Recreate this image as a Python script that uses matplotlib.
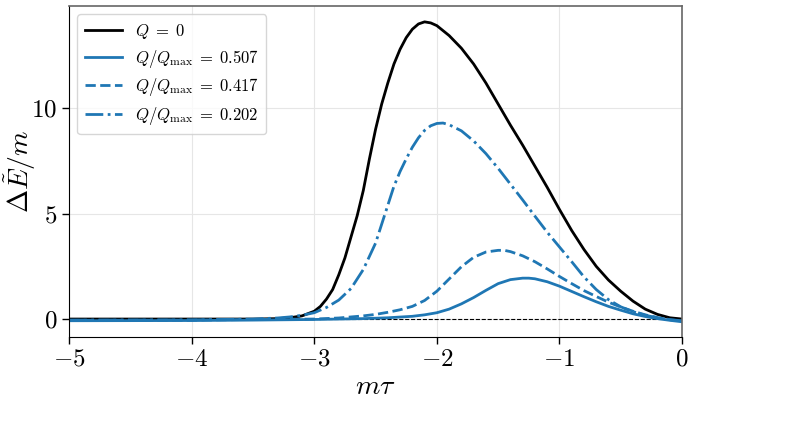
import matplotlib
matplotlib.use("Agg")
import matplotlib.pyplot as plt

plt.rcParams['mathtext.fontset'] = 'cm'
plt.rcParams['font.family'] = 'serif'
plt.rcParams['font.serif'] = ['cmr10', 'DejaVu Serif']
plt.rcParams['axes.unicode_minus'] = False

# Q = 0
x_q0 = [-5.0, -4.0, -3.5, -3.3, -3.2, -3.1, -3.0, -2.95, -2.9, -2.85, -2.8, -2.75, -2.7,
        -2.65, -2.6, -2.55, -2.5, -2.45, -2.4, -2.35, -2.3, -2.25, -2.2, -2.15, -2.1,
        -2.05, -2.0, -1.9, -1.8, -1.7, -1.6, -1.5, -1.4, -1.3, -1.2, -1.1, -1.0, -0.9,
        -0.8, -0.7, -0.6, -0.5, -0.4, -0.3, -0.2, -0.1, 0.0]
y_q0 = [0.0, 0.0, 0.0, 0.02, 0.06, 0.15, 0.37, 0.6, 0.95, 1.4, 2.1, 2.9, 3.9,
        4.9, 6.1, 7.6, 9.0, 10.2, 11.2, 12.1, 12.8, 13.35, 13.75, 14.0, 14.1,
        14.05, 13.92, 13.45, 12.85, 12.1, 11.2, 10.2, 9.2, 8.25, 7.25, 6.25, 5.2, 4.2,
        3.3, 2.5, 1.85, 1.32, 0.85, 0.47, 0.22, 0.06, 0.0]

# Q/Qmax = 0.507
x_507 = [-5.0, -4.0, -3.5, -3.0, -2.6, -2.4, -2.2, -2.1, -2.0, -1.9, -1.8, -1.7, -1.6,
         -1.5, -1.4, -1.3, -1.25, -1.2, -1.1, -1.0, -0.9, -0.8, -0.7, -0.6, -0.5, -0.4,
         -0.3, -0.2, -0.1, 0.0]
y_507 = [-0.08, -0.07, -0.05, -0.02, 0.02, 0.06, 0.13, 0.2, 0.3, 0.47, 0.72, 1.02, 1.36,
         1.68, 1.87, 1.94, 1.94, 1.91, 1.77, 1.56, 1.31, 1.06, 0.82, 0.6, 0.42, 0.25,
         0.12, 0.02, -0.06, -0.13]

# Q/Qmax = 0.417
x_417 = [-5.0, -4.0, -3.5, -3.0, -2.8, -2.6, -2.5, -2.4, -2.3, -2.2, -2.1, -2.0, -1.9,
         -1.8, -1.7, -1.6, -1.5, -1.45, -1.4, -1.3, -1.2, -1.1, -1.0, -0.9, -0.8, -0.7,
         -0.6, -0.5, -0.4, -0.3, -0.2, -0.1, 0.0]
y_417 = [-0.06, -0.05, -0.02, 0.0, 0.05, 0.15, 0.22, 0.32, 0.44, 0.6, 0.88, 1.32, 1.9,
         2.48, 2.93, 3.18, 3.26, 3.26, 3.2, 3.0, 2.72, 2.38, 2.02, 1.68, 1.35, 1.07,
         0.8, 0.57, 0.37, 0.2, 0.07, -0.03, -0.1]

# Q/Qmax = 0.202
x_202 = [-5.0, -4.0, -3.5, -3.3, -3.2, -3.1, -3.0, -2.9, -2.8, -2.7, -2.6, -2.5, -2.45,
         -2.4, -2.35, -2.3, -2.25, -2.2, -2.15, -2.1, -2.05, -2.0, -1.95, -1.9, -1.8,
         -1.7, -1.6, -1.5, -1.4, -1.3, -1.2, -1.1, -1.0, -0.9, -0.8, -0.7, -0.6, -0.5,
         -0.4, -0.3, -0.2, -0.1, 0.0]
y_202 = [-0.05, -0.04, 0.0, 0.05, 0.1, 0.18, 0.3, 0.55, 0.9, 1.45, 2.35, 3.6, 4.5,
         5.4, 6.3, 7.0, 7.6, 8.15, 8.6, 8.95, 9.17, 9.28, 9.3, 9.22, 8.93,
         8.45, 7.85, 7.15, 6.4, 5.65, 4.88, 4.12, 3.42, 2.72, 2.0, 1.4, 0.92, 0.58,
         0.35, 0.18, 0.06, -0.03, -0.08]

xticks = [-5, -4, -3, -2, -1, 0]
yticks = [0, 5, 10]

fig = plt.figure(figsize=(7.94, 4.32), dpi=100)
ax = fig.add_axes([0.087, 0.22, 0.772, 0.766])

blue = '#1f77b4'
ax.axhline(0, color='black', lw=0.8, ls='--', zorder=1)
ax.plot(x_q0, y_q0, color='black', lw=2.0, label=r'$Q\;=\;0$')
ax.plot(x_507, y_507, color=blue, lw=2.0, ls='-', label=r'$Q/Q_{\rm max}\;=\;0.507$')
ax.plot(x_417, y_417, color=blue, lw=2.0, ls='--', label=r'$Q/Q_{\rm max}\;=\;0.417$')
ax.plot(x_202, y_202, color=blue, lw=2.0, ls='-.', label=r'$Q/Q_{\rm max}\;=\;0.202$')

ax.set_xlim(-5, 0)
ax.set_ylim(-0.85, 14.85)
ax.set_xticks(xticks)
ax.set_xticklabels([f'${t}$' for t in xticks])
ax.set_yticks(yticks)
ax.set_yticklabels([f'${t}$' for t in yticks])
ax.tick_params(labelsize=18, direction='out', length=5, width=1)
ax.grid(True, color='#e6e6e6', lw=0.8)
ax.set_axisbelow(True)

for s in ['top', 'right']:
    ax.spines[s].set_color('#666666')
    ax.spines[s].set_linewidth(1.2)

ax.set_xlabel(r'$m\tau$', fontsize=20, labelpad=2)
ax.set_ylabel(r'$\Delta\tilde{E}/m$', fontsize=20)
ax.yaxis.set_label_coords(-0.05, 0.5)

ax.legend(loc='upper left', fontsize=12, frameon=True, handlelength=2.2,
          borderpad=0.45, labelspacing=0.4)

fig.savefig('out.png', dpi=100)
